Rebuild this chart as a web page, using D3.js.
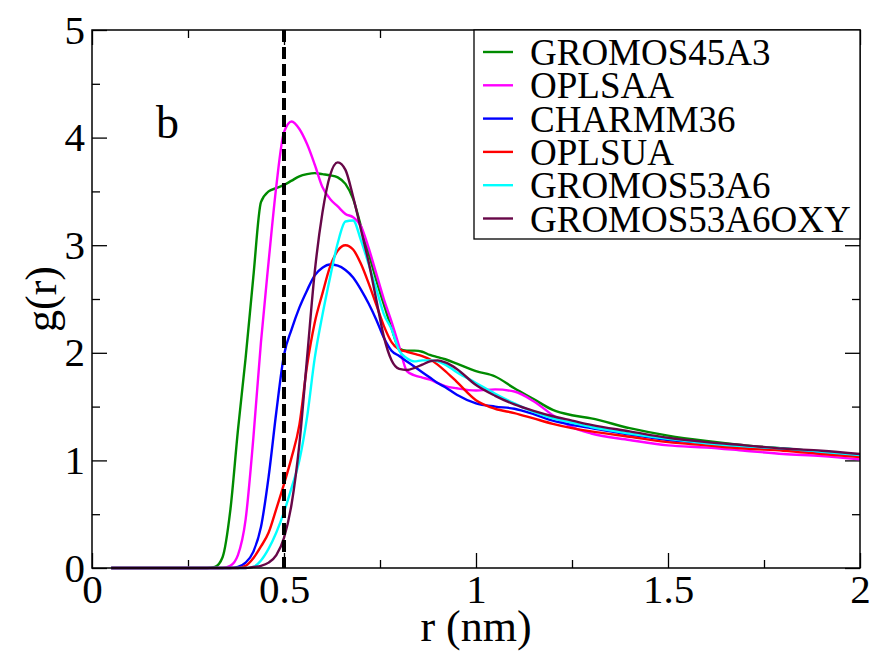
<!DOCTYPE html>
<html>
<head>
<meta charset="utf-8">
<script src="https://cdn.jsdelivr.net/npm/d3@7"></script>
<style>
  html, body { margin: 0; padding: 0; background: #fff; }
  svg { display: block; }
  text { font-family: "Liberation Serif", "Times New Roman", serif; fill: #000; }
</style>
</head>
<body>
<svg id="chart" width="872" height="653"></svg>
<script>
// Radial distribution functions g(r) for six force fields
const rValues = [0.05, 0.30, 0.32, 0.34, 0.36, 0.38, 0.40, 0.42, 0.44, 0.46, 0.48, 0.50,
  0.52, 0.54, 0.56, 0.58, 0.60, 0.62, 0.64, 0.66, 0.68, 0.70, 0.72, 0.74, 0.76, 0.78,
  0.80, 0.82, 0.84, 0.86, 0.88, 0.90, 0.92, 0.95, 1.00, 1.05, 1.10, 1.15, 1.20, 1.25,
  1.30, 1.40, 1.50, 1.60, 1.70, 1.80, 1.90, 2.00];

const gGROMOS45A3 = [0, 0, 0.01, 0.10, 0.53, 1.28, 1.95, 2.70, 3.40, 3.50, 3.53, 3.56,
  3.60, 3.64, 3.66, 3.67, 3.66, 3.65, 3.63, 3.57, 3.43, 3.18, 2.93, 2.68, 2.45, 2.23,
  2.04, 2.02, 2.02, 2.01, 1.98, 1.96, 1.94, 1.90, 1.83, 1.78, 1.67, 1.57, 1.47, 1.42,
  1.39, 1.30, 1.23, 1.18, 1.14, 1.11, 1.08, 1.05];

const gOPLSAA = [0, 0, 0, 0, 0.02, 0.12, 0.45, 1.20, 2.10, 2.85, 3.55, 4.05,
  4.15, 4.08, 3.94, 3.75, 3.54, 3.43, 3.36, 3.29, 3.26, 3.18, 2.98, 2.74, 2.50, 2.29,
  2.06, 1.83, 1.79, 1.77, 1.75, 1.72, 1.69, 1.67, 1.65, 1.66, 1.64, 1.55, 1.42, 1.31,
  1.25, 1.19, 1.14, 1.12, 1.09, 1.06, 1.04, 1.01];

const gCHARMM36 = [0, 0, 0, 0, 0, 0.01, 0.05, 0.15, 0.38, 0.85, 1.45, 1.98,
  2.22, 2.42, 2.58, 2.72, 2.79, 2.82, 2.81, 2.77, 2.70, 2.59, 2.46, 2.31, 2.14, 2.02,
  1.97, 1.92, 1.87, 1.82, 1.77, 1.72, 1.68, 1.61, 1.53, 1.50, 1.48, 1.43, 1.37, 1.33,
  1.30, 1.24, 1.19, 1.16, 1.12, 1.10, 1.07, 1.04];

const gOPLSUA = [0, 0, 0, 0, 0, 0, 0.02, 0.09, 0.20, 0.33, 0.55, 0.78,
  1.03, 1.33, 1.88, 2.28, 2.55, 2.80, 2.95, 3.00, 2.96, 2.83, 2.65, 2.45, 2.25, 2.10,
  2.03, 2.01, 1.99, 1.97, 1.94, 1.89, 1.83, 1.73, 1.56, 1.48, 1.44, 1.39, 1.34, 1.30,
  1.27, 1.22, 1.17, 1.14, 1.11, 1.09, 1.06, 1.03];

const gGROMOS53A6 = [0, 0, 0, 0, 0, 0, 0, 0.01, 0.07, 0.18, 0.33, 0.52,
  0.75, 1.00, 1.40, 1.95, 2.35, 2.70, 3.02, 3.22, 3.23, 3.05, 2.83, 2.60, 2.36, 2.22,
  2.02, 1.95, 1.92, 1.93, 1.93, 1.92, 1.89, 1.82, 1.72, 1.62, 1.53, 1.45, 1.39, 1.35,
  1.31, 1.25, 1.20, 1.16, 1.13, 1.11, 1.08, 1.05];

const gGROMOS53A6OXY = [0, 0, 0, 0, 0, 0, 0, 0.01, 0.02, 0.05, 0.12, 0.28,
  0.60, 1.15, 1.95, 2.75, 3.30, 3.65, 3.77, 3.70, 3.45, 3.15, 2.85, 2.50, 2.15, 1.93,
  1.85, 1.84, 1.86, 1.89, 1.92, 1.93, 1.91, 1.85, 1.70, 1.60, 1.52, 1.46, 1.41, 1.37,
  1.33, 1.27, 1.21, 1.17, 1.14, 1.11, 1.09, 1.06];

const seriesNames = ["GROMOS45A3", "OPLSAA", "CHARMM36", "OPLSUA", "GROMOS53A6", "GROMOS53A6OXY"];
const seriesValues = [gGROMOS45A3, gOPLSAA, gCHARMM36, gOPLSUA, gGROMOS53A6, gGROMOS53A6OXY];
const seriesColors = ["#008b00", "#ff00ff", "#0000ff", "#ff0000", "#00ffff", "#670748"];

const xMajorTicks = [0, 0.5, 1, 1.5, 2];
const xMinorTicks = [0.25, 0.75, 1.25, 1.75];
const yMajorTicks = [0, 1, 2, 3, 4, 5];
const yMinorTicks = [0.5, 1.5, 2.5, 3.5, 4.5];
const cutoffR = 0.5;

const svg = d3.select("#chart");
const plot = { left: 92, right: 860, top: 30, bottom: 568 };

const x = d3.scaleLinear().domain([0, 2]).range([plot.left, plot.right]);
const y = d3.scaleLinear().domain([0, 5]).range([plot.bottom, plot.top]);

const fontTick = 41;

// Axes with inward ticks on all four sides
function styleAxis(g) {
  g.select(".domain").remove();
  g.selectAll(".tick line").attr("stroke", "#000").attr("stroke-width", 1.3);
  g.selectAll(".tick text")
    .style("font-family", "'Liberation Serif', 'Times New Roman', serif")
    .style("font-size", fontTick + "px")
    .attr("fill", "#000");
}

svg.append("g").attr("transform", `translate(0,${plot.bottom})`)
  .call(d3.axisBottom(x).tickValues(xMajorTicks).tickSize(-15).tickPadding(6)
    .tickFormat(d3.format("")))
  .call(styleAxis);
svg.append("g").attr("transform", `translate(0,${plot.bottom})`)
  .call(d3.axisBottom(x).tickValues(xMinorTicks).tickSize(-8).tickFormat(""))
  .call(styleAxis);
svg.append("g").attr("transform", `translate(0,${plot.top})`)
  .call(d3.axisTop(x).tickValues(xMajorTicks).tickSize(-15).tickFormat(""))
  .call(styleAxis);
svg.append("g").attr("transform", `translate(0,${plot.top})`)
  .call(d3.axisTop(x).tickValues(xMinorTicks).tickSize(-8).tickFormat(""))
  .call(styleAxis);

svg.append("g").attr("transform", `translate(${plot.left},0)`)
  .call(d3.axisLeft(y).tickValues(yMajorTicks).tickSize(-15).tickPadding(7)
    .tickFormat(d3.format("d")))
  .call(styleAxis);
svg.append("g").attr("transform", `translate(${plot.left},0)`)
  .call(d3.axisLeft(y).tickValues(yMinorTicks).tickSize(-8).tickFormat(""))
  .call(styleAxis);
svg.append("g").attr("transform", `translate(${plot.right},0)`)
  .call(d3.axisRight(y).tickValues(yMajorTicks).tickSize(-15).tickFormat(""))
  .call(styleAxis);
svg.append("g").attr("transform", `translate(${plot.right},0)`)
  .call(d3.axisRight(y).tickValues(yMinorTicks).tickSize(-8).tickFormat(""))
  .call(styleAxis);

// Curves
const line = d3.line()
  .x(d => x(d[0]))
  .y(d => y(d[1]))
  .curve(d3.curveMonotoneX);

const curves = svg.append("g");
seriesValues.forEach((vals, i) => {
  const pts = rValues.map((r, k) => [r, vals[k]]);
  curves.append("path")
    .datum(pts)
    .attr("d", line)
    .attr("fill", "none")
    .attr("stroke", seriesColors[i])
    .attr("stroke-width", 2.4)
    .attr("stroke-linejoin", "round");
});

// Cutoff marker at r = 0.5 nm
const defs = svg.append("defs");
defs.append("filter").attr("id", "soft")
  .attr("x", "-200%").attr("width", "500%")
  .append("feGaussianBlur").attr("stdDeviation", 2.5);
svg.append("line")
  .attr("x1", x(cutoffR)).attr("x2", x(cutoffR))
  .attr("y1", plot.top).attr("y2", plot.bottom)
  .attr("stroke", "#000").attr("stroke-opacity", 0.25)
  .attr("stroke-width", 6).attr("filter", "url(#soft)");
svg.append("line")
  .attr("x1", x(cutoffR)).attr("x2", x(cutoffR))
  .attr("y1", plot.top).attr("y2", plot.bottom)
  .attr("stroke", "#000").attr("stroke-width", 4)
  .attr("stroke-dasharray", "12,5");

// Frame
svg.append("rect")
  .attr("x", plot.left).attr("y", plot.top)
  .attr("width", plot.right - plot.left).attr("height", plot.bottom - plot.top)
  .attr("fill", "none").attr("stroke", "#000").attr("stroke-width", 1.5);

// Legend
const legend = svg.append("g");
legend.append("rect")
  .attr("x", 474).attr("y", plot.top)
  .attr("width", plot.right - 474).attr("height", 209)
  .attr("fill", "#fff").attr("stroke", "#000").attr("stroke-width", 1.3);
seriesNames.forEach((name, i) => {
  const cy = 52 + i * 33.3;
  legend.append("line")
    .attr("x1", 483).attr("x2", 513).attr("y1", cy).attr("y2", cy)
    .attr("stroke", seriesColors[i]).attr("stroke-width", 2.4);
  legend.append("text")
    .attr("x", 530).attr("y", cy + 13)
    .style("font-size", "37px")
    .text(name);
});

// Panel letter
svg.append("text").attr("x", 156).attr("y", 138)
  .style("font-size", "46px").text("b");

// Axis titles
svg.append("text")
  .attr("x", (plot.left + plot.right) / 2).attr("y", 641)
  .attr("text-anchor", "middle")
  .style("font-size", "44px").text("r (nm)");
svg.append("text")
  .attr("transform", `translate(56,${(plot.top + plot.bottom) / 2}) rotate(-90)`)
  .attr("text-anchor", "middle")
  .style("font-size", "44px").text("g(r)");
</script>
</body>
</html>
